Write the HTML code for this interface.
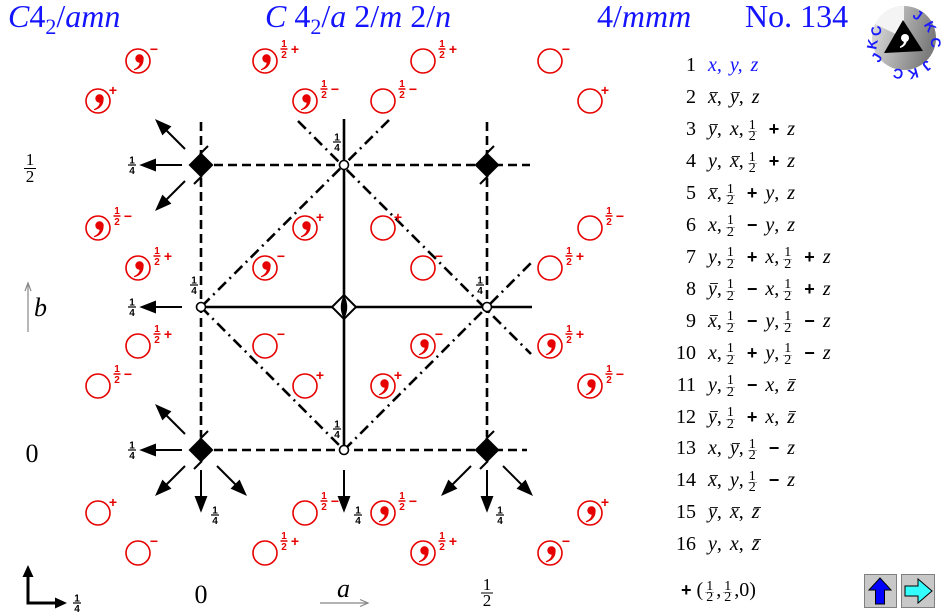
<!DOCTYPE html>
<html><head><meta charset="utf-8">
<style>
body{margin:0;width:944px;height:616px;background:#fff;overflow:hidden;position:relative;font-family:"Liberation Serif",serif}
svg{position:absolute;left:0;top:0}
.h{position:absolute;top:0;font-size:32px;line-height:32px;color:#1414ff;white-space:nowrap}
.h i{font-style:italic}
.sb{font-size:22px;position:relative;top:7px}
.r{position:absolute;left:660px;height:24px;line-height:24px;font-size:20px;white-space:nowrap;word-spacing:3px;color:#000}
.n{display:inline-block;width:36px;text-align:right;margin-right:12px;word-spacing:0}
.r i{font-style:italic}
.o{position:relative}
.o::after{content:"";position:absolute;left:2px;right:-1px;top:5.5px;border-top:1px solid #222}
.f{display:inline-block;vertical-align:-5px;font-size:14px;line-height:10.5px;text-align:center;margin:0 4px;word-spacing:0}
.f b{display:block;font-weight:normal;padding:0 1px}
.f b:first-child{border-bottom:1px solid #aaa}
.p{font-family:"Liberation Sans",sans-serif;font-weight:bold;font-size:18px}
.rl{fill:#e60000;font-family:"Liberation Sans",sans-serif;font-weight:bold;text-anchor:middle}
.s{font-size:10px}
.g{font-size:14px}
.bk{fill:#000;font-family:"Liberation Sans",sans-serif;font-weight:bold;text-anchor:middle;font-size:10px}
.ax{fill:#000;font-family:"Liberation Serif",serif;text-anchor:middle}
</style></head>
<body>
<svg width="944" height="616" viewBox="0 0 944 616" xmlns="http://www.w3.org/2000/svg">
<defs>
 <g id="ce"><circle r="12" fill="none" stroke="#e60000" stroke-width="1.6"/></g>
 <g id="cc"><circle r="12" fill="none" stroke="#e60000" stroke-width="1.6"/><circle cx="1.5" cy="-2.5" r="4.2" fill="#e60000"/><path d="M5.6,-1.8 C5.6,4 2,7.8 -3.8,9.3 L-4.2,8.2 C0,6.5 1.8,3.5 1.6,1.5 Z" fill="#e60000"/></g>
 <g id="aL"><line x1="-19" y1="0" x2="-47" y2="0"/><polygon points="-59,0 -46,-5 -46,5"/></g>
 <g id="aUL"><line x1="-16" y1="-16" x2="-36" y2="-36"/><polygon points="-44,-44 -31.3,-38.3 -38.3,-31.3"/></g>
 <g id="aDL"><line x1="-16" y1="16" x2="-36" y2="36"/><polygon points="-44,44 -38.3,31.3 -31.3,38.3"/></g>
 <g id="aDR"><line x1="16" y1="16" x2="36" y2="36"/><polygon points="44,44 31.3,38.3 38.3,31.3"/></g>
 <g id="aD"><line x1="0" y1="20" x2="0" y2="48"/><polygon points="0,60 -5,47 5,47"/></g>
 <g id="bd"><polygon points="0,-12.5 12.5,0 0,12.5 -12.5,0" fill="#000"/><line x1="-1" y1="-11" x2="7" y2="-19" stroke="#000" stroke-width="2"/><line x1="1" y1="11" x2="-7" y2="19" stroke="#000" stroke-width="2"/></g>
 <g id="oc"><circle r="4.5" fill="#fff" stroke="#000" stroke-width="1.6"/></g>
 <linearGradient id="lg" x1="0" y1="0" x2="1" y2="0.3"><stop offset="0" stop-color="#e4e4e4"/><stop offset="1" stop-color="#7c7c7c"/></linearGradient>
</defs>

<!-- lines -->
<g stroke="#000" stroke-width="2.6" fill="none">
 <g stroke-dasharray="9 5">
  <line x1="214" y1="165" x2="530" y2="165"/>
  <line x1="214" y1="450" x2="527" y2="450"/>
  <line x1="201" y1="122" x2="201" y2="437"/>
  <line x1="487" y1="122" x2="487" y2="437"/>
 </g>
 <line x1="344" y1="119" x2="344" y2="450"/>
 <line x1="201" y1="307" x2="532" y2="307"/>
 <g stroke-dasharray="11 5 2 5">
  <line x1="298" y1="121" x2="531" y2="354"/>
  <line x1="389" y1="120" x2="201" y2="307"/>
  <line x1="201" y1="307" x2="344" y2="450"/>
  <line x1="344" y1="450" x2="531" y2="263"/>
 </g>
</g>

<!-- arrows -->
<g stroke="#000" stroke-width="2" fill="#000">
 <use href="#aL" x="201" y="165"/><use href="#aUL" x="201" y="165"/><use href="#aDL" x="201" y="165"/>
 <use href="#aL" x="201" y="307"/>
 <use href="#aL" x="201" y="450"/><use href="#aUL" x="201" y="450"/><use href="#aDL" x="201" y="450"/><use href="#aD" x="201" y="450"/><use href="#aDR" x="201" y="450"/>
 <use href="#aD" x="344" y="450"/>
 <use href="#aDL" x="487" y="450"/><use href="#aD" x="487" y="450"/><use href="#aDR" x="487" y="450"/>
</g>

<!-- symmetry symbols -->
<use href="#bd" x="201" y="165"/><use href="#bd" x="487" y="165"/>
<use href="#bd" x="201" y="450"/><use href="#bd" x="487" y="450"/>
<polygon points="344,295 356,307 344,319 332,307" fill="#fff" stroke="#000" stroke-width="2"/>
<path d="M344,295 Q350.5,307 344,319 Q337.5,307 344,295Z" fill="#000"/>
<use href="#oc" x="344" y="165"/><use href="#oc" x="201" y="307"/><use href="#oc" x="487" y="307"/><use href="#oc" x="344" y="450"/>

<!-- black 1/4 labels -->
<g stroke="#000" stroke-width="1.2">
 <line x1="128" x2="136" y1="165" y2="165"/><line x1="128" x2="136" y1="307" y2="307"/><line x1="128" x2="136" y1="450" y2="450"/>
 <line x1="211" x2="219" y1="515" y2="515"/><line x1="354" x2="362" y1="515" y2="515"/><line x1="496" x2="504" y1="515" y2="515"/>
 <line x1="333" x2="341" y1="142" y2="142"/><line x1="190" x2="198" y1="285" y2="285"/><line x1="476" x2="484" y1="285" y2="285"/><line x1="333" x2="341" y1="429" y2="429"/>
 <line x1="73" x2="81" y1="603" y2="603"/>
</g>
<g class="bk">
 <text x="132" y="163.5">1</text><text x="132" y="174">4</text>
 <text x="132" y="305.5">1</text><text x="132" y="316">4</text>
 <text x="132" y="448.5">1</text><text x="132" y="459">4</text>
 <text x="215" y="513.5">1</text><text x="215" y="524">4</text>
 <text x="358" y="513.5">1</text><text x="358" y="524">4</text>
 <text x="500" y="513.5">1</text><text x="500" y="524">4</text>
 <text x="337" y="140.5">1</text><text x="337" y="151">4</text>
 <text x="194" y="283.5">1</text><text x="194" y="294">4</text>
 <text x="480" y="283.5">1</text><text x="480" y="294">4</text>
 <text x="337" y="427.5">1</text><text x="337" y="438">4</text>
 <text x="77" y="601.5">1</text><text x="77" y="612">4</text>
</g>

<!-- red general positions -->
<use href="#cc" x="138" y="61"/><use href="#cc" x="265" y="61"/><use href="#ce" x="423" y="61"/><use href="#ce" x="550" y="61"/>
<use href="#cc" x="98" y="101"/><use href="#cc" x="305" y="101"/><use href="#ce" x="383" y="101"/><use href="#ce" x="590" y="101"/>
<use href="#cc" x="98" y="228"/><use href="#cc" x="305" y="228"/><use href="#ce" x="383" y="228"/><use href="#ce" x="590" y="228"/>
<use href="#cc" x="138" y="268"/><use href="#cc" x="265" y="268"/><use href="#ce" x="423" y="268"/><use href="#ce" x="550" y="268"/>
<use href="#ce" x="138" y="346"/><use href="#ce" x="265" y="346"/><use href="#cc" x="423" y="346"/><use href="#cc" x="550" y="346"/>
<use href="#ce" x="98" y="386"/><use href="#ce" x="305" y="386"/><use href="#cc" x="383" y="386"/><use href="#cc" x="590" y="386"/>
<use href="#ce" x="98" y="513"/><use href="#ce" x="305" y="513"/><use href="#cc" x="383" y="513"/><use href="#cc" x="590" y="513"/>
<use href="#ce" x="138" y="553"/><use href="#ce" x="265" y="553"/><use href="#cc" x="423" y="553"/><use href="#cc" x="550" y="553"/>

<g stroke="#e60000" stroke-width="1.5">
 <line x1="280.5" x2="287.5" y1="49" y2="49"/><line x1="438.5" x2="445.5" y1="49" y2="49"/>
 <line x1="320.5" x2="327.5" y1="89" y2="89"/><line x1="398.5" x2="405.5" y1="89" y2="89"/>
 <line x1="113.5" x2="120.5" y1="216" y2="216"/><line x1="605.5" x2="612.5" y1="216" y2="216"/>
 <line x1="153.5" x2="160.5" y1="256" y2="256"/><line x1="565.5" x2="572.5" y1="256" y2="256"/>
 <line x1="153.5" x2="160.5" y1="334" y2="334"/><line x1="565.5" x2="572.5" y1="334" y2="334"/>
 <line x1="113.5" x2="120.5" y1="374" y2="374"/><line x1="605.5" x2="612.5" y1="374" y2="374"/>
 <line x1="320.5" x2="327.5" y1="501" y2="501"/><line x1="398.5" x2="405.5" y1="501" y2="501"/>
 <line x1="280.5" x2="287.5" y1="541" y2="541"/><line x1="438.5" x2="445.5" y1="541" y2="541"/>
</g>
<g class="rl">
 <text class="g" x="154" y="54">−</text>
 <text class="s" x="284" y="47">1</text><text class="s" x="284" y="58">2</text><text class="g" x="295" y="54">+</text>
 <text class="s" x="442" y="47">1</text><text class="s" x="442" y="58">2</text><text class="g" x="453" y="54">+</text>
 <text class="g" x="566" y="54">−</text>

 <text class="g" x="113" y="95">+</text>
 <text class="s" x="324" y="87">1</text><text class="s" x="324" y="98">2</text><text class="g" x="335" y="94">−</text>
 <text class="s" x="402" y="87">1</text><text class="s" x="402" y="98">2</text><text class="g" x="413" y="94">−</text>
 <text class="g" x="605" y="95">+</text>

 <text class="s" x="117" y="214">1</text><text class="s" x="117" y="225">2</text><text class="g" x="128" y="221">−</text>
 <text class="g" x="320" y="222">+</text>
 <text class="g" x="398" y="222">+</text>
 <text class="s" x="609" y="214">1</text><text class="s" x="609" y="225">2</text><text class="g" x="620" y="221">−</text>

 <text class="s" x="157" y="254">1</text><text class="s" x="157" y="265">2</text><text class="g" x="168" y="261">+</text>
 <text class="g" x="281" y="261">−</text>
 <text class="g" x="439" y="261">−</text>
 <text class="s" x="569" y="254">1</text><text class="s" x="569" y="265">2</text><text class="g" x="580" y="261">+</text>

 <text class="s" x="157" y="332">1</text><text class="s" x="157" y="343">2</text><text class="g" x="168" y="339">+</text>
 <text class="g" x="281" y="339">−</text>
 <text class="g" x="439" y="339">−</text>
 <text class="s" x="569" y="332">1</text><text class="s" x="569" y="343">2</text><text class="g" x="580" y="339">+</text>

 <text class="s" x="117" y="372">1</text><text class="s" x="117" y="383">2</text><text class="g" x="128" y="379">−</text>
 <text class="g" x="320" y="380">+</text>
 <text class="g" x="398" y="380">+</text>
 <text class="s" x="609" y="372">1</text><text class="s" x="609" y="383">2</text><text class="g" x="620" y="379">−</text>

 <text class="g" x="113" y="507">+</text>
 <text class="s" x="324" y="499">1</text><text class="s" x="324" y="510">2</text><text class="g" x="335" y="506">−</text>
 <text class="s" x="402" y="499">1</text><text class="s" x="402" y="510">2</text><text class="g" x="413" y="506">−</text>
 <text class="g" x="605" y="507">+</text>

 <text class="g" x="154" y="546">−</text>
 <text class="s" x="284" y="539">1</text><text class="s" x="284" y="550">2</text><text class="g" x="295" y="546">+</text>
 <text class="s" x="442" y="539">1</text><text class="s" x="442" y="550">2</text><text class="g" x="453" y="546">+</text>
 <text class="g" x="566" y="546">−</text>
</g>

<!-- axis labels -->
<text class="ax" x="30" y="165" font-size="17">1</text>
<line x1="24" x2="36" y1="168.5" y2="168.5" stroke="#000" stroke-width="1"/>
<text class="ax" x="30" y="182" font-size="17">2</text>
<g stroke="#888" stroke-width="1.2" fill="none">
 <line x1="28" y1="332" x2="28" y2="283"/><polyline points="25,291 28,283 31,291"/>
 <line x1="320" y1="603" x2="368" y2="603"/><polyline points="360,599.5 368,603 360,606.5"/>
</g>
<text x="34" y="316" font-size="26" font-style="italic" font-family="Liberation Serif, serif">b</text>
<text class="ax" x="32" y="462" font-size="26">0</text>
<text class="ax" x="201" y="603" font-size="26">0</text>
<text x="337" y="597" font-size="26" font-style="italic" font-family="Liberation Serif, serif">a</text>
<text class="ax" x="487" y="590" font-size="17">1</text>
<line x1="481" x2="493" y1="593" y2="593" stroke="#000" stroke-width="1"/>
<text class="ax" x="487" y="606" font-size="17">2</text>

<!-- axes icon -->
<polyline points="28,575 28,603 56,603" fill="none" stroke="#000" stroke-width="3"/>
<polygon points="28,565 22.5,577 33.5,577" fill="#000"/>
<polygon points="67,603 55,597.5 55,608.5" fill="#000"/>

<!-- logo -->
<circle cx="904" cy="38" r="32" fill="url(#lg)"/>
<path d="M904,6 A32,32 0 0 0 875,24 L904,38 Z" fill="#f4f4f4"/>
<polygon points="903,20 884,53 923,51" fill="#000"/>
<circle cx="905" cy="38" r="4" fill="#fff"/>
<path d="M907,39 C907,44 904,47 900,48 L900,46.5 C903,45 904,43 904,41 Z" fill="#fff"/>
<g fill="#1a1aff" font-family="Liberation Sans, sans-serif" font-weight="bold" font-size="14" text-anchor="middle">
 <text x="915" y="19" transform="rotate(35 915 19)">J</text>
 <text x="926" y="29" transform="rotate(60 926 29)">K</text>
 <text x="931" y="43" transform="rotate(85 931 43)">C</text>
 <text x="881" y="60" transform="rotate(-60 881 60)">J</text>
 <text x="877" y="45" transform="rotate(-80 877 45)">K</text>
 <text x="881" y="30" transform="rotate(-100 881 30)">C</text>
 <text x="924" y="62" transform="rotate(140 924 62)">J</text>
 <text x="912" y="69" transform="rotate(165 912 69)">K</text>
 <text x="899" y="69" transform="rotate(190 899 69)">C</text>
</g>

<!-- buttons -->
<rect x="864.5" y="574.5" width="32" height="33" fill="#c8c8c8" stroke="#808080"/>
<polygon points="880,578 869,590 875.5,590 875.5,604 884.5,604 884.5,590 891,590" fill="#0000ff" stroke="#000" stroke-width="1"/>
<rect x="901.5" y="574.5" width="33" height="33" fill="#c8c8c8" stroke="#808080"/>
<polygon points="905,586 918,586 918,579 932,591 918,603 918,596 905,596" fill="#33ffff" stroke="#000" stroke-width="1"/>
</svg>

<div class="h" style="left:8px"><i>C</i>4<span class="sb">2</span>/<i>amn</i></div>
<div class="h" style="left:265px"><i>C</i> 4<span class="sb">2</span>/<i>a</i> 2/<i>m</i> 2/<i>n</i></div>
<div class="h" style="left:597px">4/<i>mmm</i></div>
<div class="h" style="left:745px">No. 134</div>

<div class="r" style="top:53.2px"><span class="n">1</span><i style="color:#1414ff">x, y, z</i></div>
<div class="r" style="top:85.2px"><span class="n">2</span><i class="o">x</i>, <i class="o">y</i>, <i>z</i></div>
<div class="r" style="top:117.1px"><span class="n">3</span><i class="o">y</i>, <i>x</i>,<span class="f"><b>1</b><b>2</b></span> <span class="p">+</span> <i>z</i></div>
<div class="r" style="top:149px"><span class="n">4</span><i>y</i>, <i class="o">x</i>,<span class="f"><b>1</b><b>2</b></span> <span class="p">+</span> <i>z</i></div>
<div class="r" style="top:181px"><span class="n">5</span><i class="o">x</i>,<span class="f"><b>1</b><b>2</b></span> <span class="p">+</span> <i>y</i>, <i>z</i></div>
<div class="r" style="top:212.9px"><span class="n">6</span><i>x</i>,<span class="f"><b>1</b><b>2</b></span> <span class="p">−</span> <i>y</i>, <i>z</i></div>
<div class="r" style="top:244.8px"><span class="n">7</span><i>y</i>,<span class="f"><b>1</b><b>2</b></span> <span class="p">+</span> <i>x</i>,<span class="f"><b>1</b><b>2</b></span> <span class="p">+</span> <i>z</i></div>
<div class="r" style="top:276.8px"><span class="n">8</span><i class="o">y</i>,<span class="f"><b>1</b><b>2</b></span> <span class="p">−</span> <i>x</i>,<span class="f"><b>1</b><b>2</b></span> <span class="p">+</span> <i>z</i></div>
<div class="r" style="top:308.7px"><span class="n">9</span><i class="o">x</i>,<span class="f"><b>1</b><b>2</b></span> <span class="p">−</span> <i>y</i>,<span class="f"><b>1</b><b>2</b></span> <span class="p">−</span> <i>z</i></div>
<div class="r" style="top:340.6px"><span class="n">10</span><i>x</i>,<span class="f"><b>1</b><b>2</b></span> <span class="p">+</span> <i>y</i>,<span class="f"><b>1</b><b>2</b></span> <span class="p">−</span> <i>z</i></div>
<div class="r" style="top:372.6px"><span class="n">11</span><i>y</i>,<span class="f"><b>1</b><b>2</b></span> <span class="p">−</span> <i>x</i>, <i class="o">z</i></div>
<div class="r" style="top:404.5px"><span class="n">12</span><i class="o">y</i>,<span class="f"><b>1</b><b>2</b></span> <span class="p">+</span> <i>x</i>, <i class="o">z</i></div>
<div class="r" style="top:436.4px"><span class="n">13</span><i>x</i>, <i class="o">y</i>,<span class="f"><b>1</b><b>2</b></span> <span class="p">−</span> <i>z</i></div>
<div class="r" style="top:468.3px"><span class="n">14</span><i class="o">x</i>, <i>y</i>,<span class="f"><b>1</b><b>2</b></span> <span class="p">−</span> <i>z</i></div>
<div class="r" style="top:500.3px"><span class="n">15</span><i class="o">y</i>, <i class="o">x</i>, <i class="o">z</i></div>
<div class="r" style="top:532.2px"><span class="n">16</span><i>y</i>, <i>x</i>, <i class="o">z</i></div>
<div class="r" style="left:681px;top:578px;word-spacing:0"><span class="p">+</span> (<span class="f" style="margin:0 2px"><b>1</b><b>2</b></span>,<span class="f" style="margin:0 2px"><b>1</b><b>2</b></span>,0)</div>
</body></html>
